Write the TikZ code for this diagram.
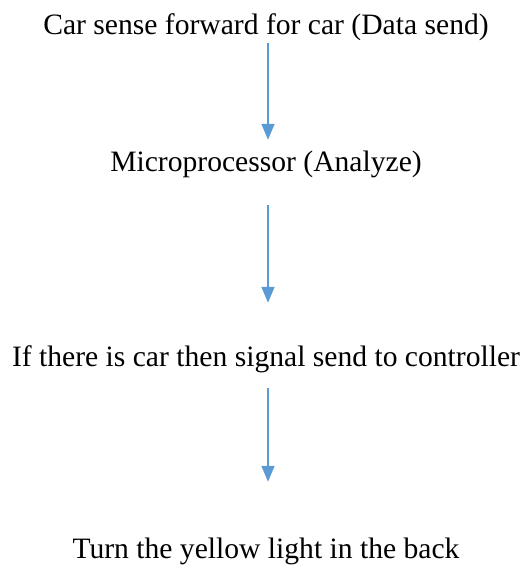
\documentclass[tikz,border=0pt]{standalone}
\usepackage{fontspec}
\setmainfont{Liberation Serif}
\usepackage{tikz}
\usetikzlibrary{arrows.meta}

\definecolor{flowblue}{RGB}{91,155,213}

\begin{document}
\begin{tikzpicture}[
  x=1bp, y=-1bp,
  font=\fontsize{29.6bp}{35bp}\selectfont,
  >={Triangle[width=13bp,length=16bp]},
  stage/.style={inner sep=0pt, anchor=base, text height=21bp, text depth=6bp},
  flow/.style={->, draw=flowblue, fill=flowblue, line width=1.6bp}]
\useasboundingbox (0,0) rectangle (524,565);
\node[stage] (sense) at (266,35)  {Car sense forward for car (Data send)};
\node[stage] (mp)    at (266,171) {Microprocessor (Analyze)};
\node[stage] (check) at (266,366) {If there is car then signal send to controller};
\node[stage] (light) at (266,558) {Turn the yellow light in the back};
\coordinate (ax) at (268,0);
% arrows sit a little right of the text centres
\draw[flow, shorten <=2bp, shorten >=10bp]  (sense.south -| ax) -- (mp.north -| ax);
\draw[flow, shorten <=28bp, shorten >=42bp] (mp.south -| ax) -- (check.north -| ax);
\draw[flow, shorten <=16bp, shorten >=55bp] (check.south -| ax) -- (light.north -| ax);
\end{tikzpicture}
\end{document}
